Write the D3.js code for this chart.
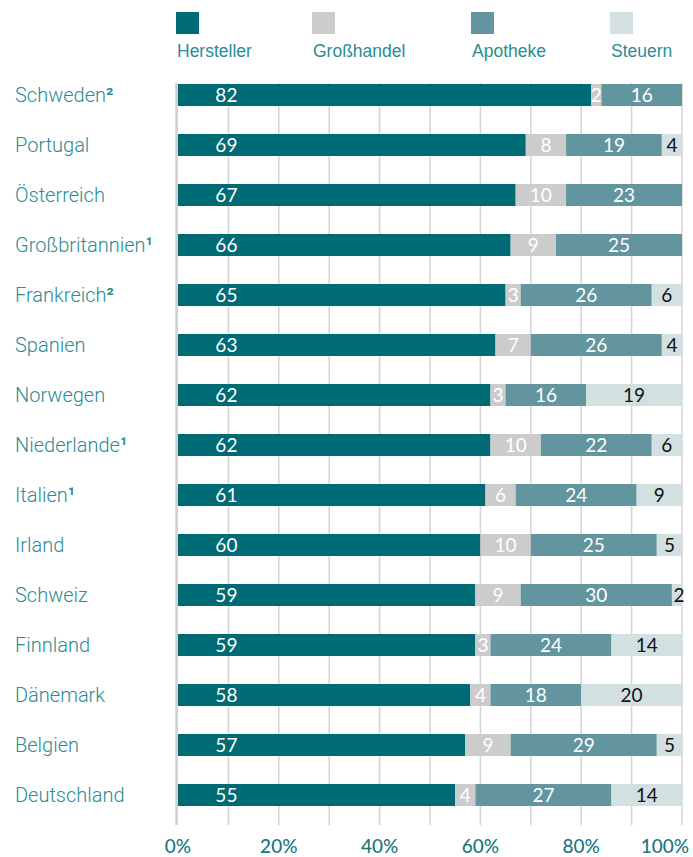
<!DOCTYPE html>
<html><head><meta charset="utf-8">
<script src="https://cdn.jsdelivr.net/npm/d3@7"></script>
<style>body{margin:0;background:#fff}svg{display:block}</style>
</head><body>
<script>
const countries = ["Schweden","Portugal","Österreich","Großbritannien","Frankreich","Spanien","Norwegen","Niederlande","Italien","Irland","Schweiz","Finnland","Dänemark","Belgien","Deutschland"];
const footnotes = ["²","","","¹","²","","","¹","¹","","","","","",""];
const hersteller = [82,69,67,66,65,63,62,62,61,60,59,59,58,57,55];
const grosshandel = [2,8,10,9,3,7,3,10,6,10,9,3,4,9,4];
const apotheke = [16,19,23,25,26,26,16,22,24,25,30,24,18,29,27];
const steuern = [0,4,0,0,6,4,19,6,9,5,2,14,20,5,14];
const seriesNames = ["Hersteller","Großhandel","Apotheke","Steuern"];
const tickValues = [0,20,40,60,80,100];

const W=693,H=857;
const colors = ["#006b75","#cccccc","#62959e","#d3e0e2"];
const textColors = ["#ffffff","#ffffff","#ffffff","#111111"];
const teal="#2a8c94";

const svg=d3.select("body").append("svg").attr("width",W).attr("height",H);

const x=d3.scaleLinear().domain([0,100]).range([178,682]);
const y=d3.scaleBand().domain(countries).range([70,820]).paddingInner(0.56).paddingOuter(0.28);

// grid
const gridTicks=d3.range(10,101,10);
svg.append("g").selectAll("line").data(gridTicks).join("line")
  .attr("x1",d=>x(d)).attr("x2",d=>x(d)).attr("y1",83).attr("y2",825)
  .attr("stroke","#d4d4d4").attr("stroke-width",1.5);
svg.append("line").attr("x1",x(0)-1.5).attr("x2",x(0)-1.5).attr("y1",83).attr("y2",825)
  .attr("stroke","#cccccc").attr("stroke-width",2.5);

const data=countries.map((c,i)=>({country:c,vals:[hersteller[i],grosshandel[i],apotheke[i],steuern[i]]}));

const rows=svg.append("g").selectAll("g").data(data).join("g");
rows.each(function(d){
  const g=d3.select(this);
  let acc=0;
  d.vals.forEach((v,k)=>{
    if(v<=0){return;}
    const x0=x(acc),x1=x(acc+v);
    g.append("rect").attr("x",x0).attr("y",y(d.country)).attr("width",x1-x0).attr("height",y.bandwidth()).attr("fill",colors[k]);
    let cx=k===0? x(9.6) : (x0+x1)/2;
    if(k===3 && v<=2) cx=x1-3;
    g.append("text").attr("x",cx).attr("y",y(d.country)+y.bandwidth()/2).attr("dy","0.36em")
      .attr("text-anchor","middle").attr("font-family","Lato, 'Open Sans', sans-serif").attr("font-size",19)
      .attr("fill",textColors[k]).text(v);
    acc+=v;
  });
});

// country labels
const lab=svg.append("g").selectAll("text").data(data).join("text")
  .attr("x",15).attr("y",d=>y(d.country)+y.bandwidth()/2).attr("dy","0.36em")
  .attr("font-family","Roboto, sans-serif").attr("font-weight",300).attr("font-size",20).attr("fill",teal);
lab.append("tspan").text(d=>d.country);
lab.append("tspan").attr("font-weight",500).text((d,i)=>footnotes[i]);

// bottom axis
const axis=svg.append("g");
axis.selectAll("text").data(tickValues).join("text")
  .attr("x",d=>d===100? x(d)+7 : x(d)).attr("y",853)
  .attr("text-anchor",d=>d===100?"end":"middle")
  .attr("font-family","Lato, sans-serif").attr("font-size",19).attr("font-weight",500).attr("fill","#1a7880")
  .text(d=>d+"%");

// legend
const lx=[176,312,471,610];
const leg=svg.append("g").selectAll("g").data(seriesNames).join("g").attr("transform",(d,i)=>`translate(${lx[i]},0)`);
leg.append("rect").attr("x",0).attr("y",12).attr("width",23).attr("height",22).attr("fill",(d,i)=>colors[i]);
leg.append("text").attr("x",1).attr("y",57).attr("font-family","'Liberation Sans', Arial, sans-serif").attr("font-size",17.5).attr("fill",teal).text(d=>d);
</script>
</body></html>
